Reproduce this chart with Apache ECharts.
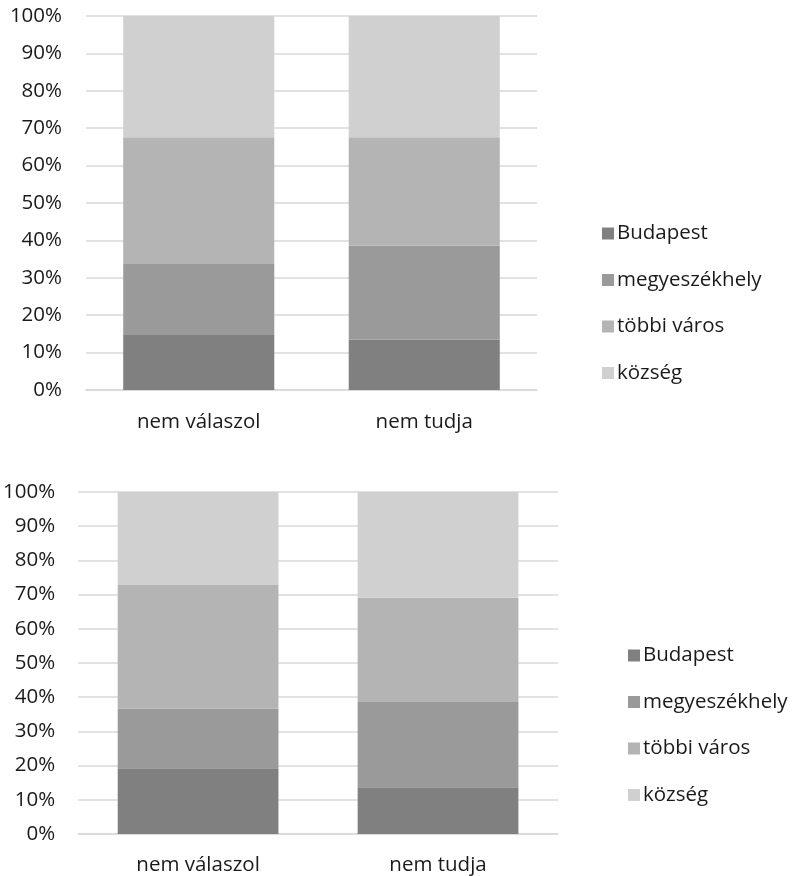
<!DOCTYPE html>
<html>
<head>
<meta charset="utf-8">
<script src="https://cdn.jsdelivr.net/npm/echarts@6/dist/echarts.min.js"></script>
<style>
html,body{margin:0;padding:0;background:#fff;}
#c{width:797px;height:876px;}
</style>
</head>
<body>
<div id="c"></div>
<script>
var categories = ['nem válaszol', 'nem tudja'];
var seriesNames = ['Budapest', 'megyeszékhely', 'többi város', 'község'];
var colors = ['#808080', '#9a9a9a', '#b4b4b4', '#d0d0d0'];
var yTicks = [0, 10, 20, 30, 40, 50, 60, 70, 80, 90, 100];

// Chart 1 (top)
var budapest1 = [14.7, 13.5];
var megye1 = [19.0, 25.1];
var tobbi1 = [33.9, 29.0];
var kozseg1 = [32.4, 32.4];

// Chart 2 (bottom)
var budapest2 = [19.2, 13.7];
var megye2 = [17.5, 24.9];
var tobbi2 = [36.1, 30.5];
var kozseg2 = [27.2, 30.9];

var font = 'Open Sans';
var fs = 20.5;
var textColor = '#1a1a1a';
var gridColor = '#d9d9d9';

function mkX(idx, margin) {
  return {
    type: 'category', gridIndex: idx, data: categories,
    axisTick: {show: false},
    axisLine: {show: true, lineStyle: {color: gridColor, width: 1.5}},
    axisLabel: {fontFamily: font, fontSize: fs, color: textColor, margin: margin}
  };
}
function mkY(idx, margin) {
  return {
    type: 'value', gridIndex: idx, min: yTicks[0], max: yTicks[yTicks.length - 1], interval: 10,
    axisLine: {show: false}, axisTick: {show: false},
    splitLine: {show: true, lineStyle: {color: gridColor, width: 1.5}},
    axisLabel: {fontFamily: font, fontSize: fs, color: textColor, margin: margin, formatter: '{value}%'}
  };
}
function mkSeries(idx, arrays) {
  return arrays.map(function (arr, i) {
    return {
      name: seriesNames[i], type: 'bar', stack: 's' + idx,
      xAxisIndex: idx, yAxisIndex: idx,
      barWidth: '67%',
      itemStyle: {color: colors[i]},
      data: arr
    };
  });
}
function mkLegend(left, top) {
  return {
    orient: 'vertical', left: left, top: top,
    data: seriesNames.map(function (n) { return {name: n, icon: 'rect'}; }),
    itemWidth: 12, itemHeight: 12, itemGap: 25.5,
    selectedMode: false,
    textStyle: {fontFamily: font, fontSize: fs, color: textColor, lineHeight: 20, padding: [0, 0, 0, -2]}
  };
}

var chart = echarts.init(document.getElementById('c'), null, {renderer: 'canvas'});
chart.setOption({
  animation: false,
  color: colors,
  grid: [
    {left: 86, right: 260, top: 16, bottom: 486},
    {left: 75, right: 239, top: 492, bottom: 41}
  ],
  xAxis: [mkX(0, 22), mkX(1, 21)],
  yAxis: [mkY(0, 24), mkY(1, 23)],
  legend: [mkLegend(597, 218), mkLegend(623, 640)],
  series: mkSeries(0, [budapest1, megye1, tobbi1, kozseg1])
    .concat(mkSeries(1, [budapest2, megye2, tobbi2, kozseg2]))
});
</script>
</body>
</html>
